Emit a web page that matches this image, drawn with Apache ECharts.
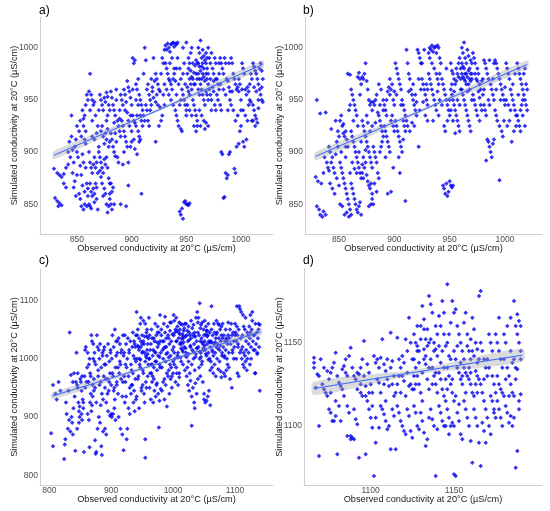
<!DOCTYPE html>
<html><head><meta charset="utf-8">
<script src="https://cdn.jsdelivr.net/npm/echarts@6/dist/echarts.min.js"></script>
<style>html,body{margin:0;padding:0;background:#fff}#c{width:550px;height:511px}</style>
</head><body><div id="c"></div>
<script>
// ---------- DATA ----------
const panelLabels = ['a)','b)','c)','d)'];
const xTitle = 'Observed conductivity at 20°C (µS/cm)';
const yTitle = 'Simulated conductivity at 20°C (µS/cm)';
const ticksAX = [850,900,950,1000], ticksAY = [850,900,950,1000];
const ticksBX = [850,900,950,1000], ticksBY = [850,900,950,1000];
const ticksCX = [800,900,1000,1100], ticksCY = [800,900,1000,1100];
const ticksDX = [1100,1150], ticksDY = [1100,1150];

const dataA = [[829,884],[830,856],[832,853],[833,848],[834,851],[836,849],[832,880],[834,878],[836,876],[838,879],[840,885],[838,870],[840,866],
[842,900],[843,910],[844,895],[845,935],[846,902],[847,890],[848,905],[848,872],[846,880],[849,912],[845,915],[842,888],[847,866],[849,858],[850,925],[850,900],[850,878],
[852,920],[853,930],[854,915],[855,940],[856,925],[857,912],[858,945],[855,898],[856,890],[858,885],[852,860],[853,855],[854,848],[856,845],[857,862],[859,870],[860,865],[858,908],[857,935],[859,955],[860,950],[851,895],[853,887],[854,878],[855,868],[857,850],[859,848],[860,858],[856,932],[858,920],
[861,958],[862,975],[863,955],[864,950],[865,945],[866,948],[862,940],[864,915],[866,912],[868,918],[861,900],[862,890],[863,885],[864,880],[865,888],[866,895],[867,885],[868,890],[869,880],[862,870],[863,862],[864,858],[865,865],[866,860],[867,870],[868,866],[861,850],[862,848],[863,846],[866,852],[868,855],[869,845],[870,905],[869,925],[867,935],[870,940],[864,930],
[871,955],[872,950],[873,945],[874,940],[875,952],[876,948],[877,957],[878,953],[879,945],[872,920],[873,925],[874,915],[876,918],[877,912],[878,922],[879,905],[871,895],[872,890],[873,885],[874,880],[875,893],[876,888],[877,895],[878,885],[879,875],[880,870],[871,882],[872,876],[873,870],[875,865],[876,860],[877,850],[878,842],[879,848],[880,855],[874,858],[875,908],[870,900],[880,860],[880,910],[878,935],[877,930],[880,940],
[881,958],[882,952],[883,945],[884,940],[885,935],[886,950],[887,930],[888,925],[889,920],[881,918],[882,912],[883,905],[884,900],[885,896],[886,910],[887,895],[888,890],[889,940],[890,955],[881,870],[882,862],[883,866],[881,850],[882,845],[884,850],[890,850],[886,960],[884,928],[889,932],[890,915],[885,918],
[891,950],[892,945],[893,960],[894,955],[895,948],[896,968],[897,962],[898,958],[899,952],[900,945],[891,930],[892,925],[893,920],[894,915],[895,910],[896,905],[897,930],[898,925],[899,935],[900,920],[893,900],[897,890],[895,848],[897,868],[892,888],[899,905],[900,910],[894,940],[896,938],
[901,990],[902,985],[903,988],[904,965],[905,960],[906,970],[907,955],[908,950],[909,945],[910,940],[901,935],[902,930],[903,928],[904,925],[905,935],[906,920],[907,915],[908,912],[909,930],[910,925],[903,903],[905,898],[907,910],[909,860],[901,960],[904,950],[906,945],[908,935],[902,912],
[911,975],[912,1000],[913,988],[914,960],[915,965],[916,955],[917,950],[918,945],[919,958],[920,952],[911,935],[912,930],[913,945],[914,940],[915,930],[916,925],[918,970],[920,990],[922,910],[917,940],[919,962],
[921,968],[922,975],[923,970],[924,965],[925,960],[926,958],[927,975],[928,990],[929,985],[930,998],[922,948],[924,945],[926,943],[928,935],[930,945],[925,925],[927,930],[929,955],[930,965],[923,955],
[931,1002],[932,998],[933,1004],[934,1000],[935,996],[936,1003],[937,1004],[938,1005],[939,1001],[940,1004],[941,1003],[942,1005],[931,985],[932,980],[933,975],[934,970],[935,968],[936,965],[937,960],[938,970],[939,975],[940,968],[932,960],[934,955],[936,950],[938,945],[940,940],[935,985],[937,990],[939,980],[941,955],[941,980],
[941,935],[942,930],[943,925],[944,945],[945,950],[946,960],[947,955],[948,950],[949,945],[950,940],[943,965],[945,970],[947,975],[949,965],[945,922],[946,920],[950,935],[944,843],[945,840],[946,846],[947,836],[948,852],[949,853],[950,850],[951,850],[952,849],[953,851],[947,1000],[950,1005],[942,990],[948,985],[944,980],
[951,975],[952,980],[953,985],[954,978],[955,972],[956,970],[957,976],[958,983],[959,988],[960,985],[951,962],[952,958],[953,955],[954,965],[955,960],[956,950],[957,945],[958,940],[959,935],[960,930],[951,945],[953,940],[955,935],[957,925],[959,920],[960,925],[952,990],[954,995],[956,985],[958,965],[960,970],[953,970],[957,965],[959,975],[955,1000],
[961,1000],[962,995],[963,1007],[964,990],[965,985],[966,992],[967,988],[968,995],[969,980],[970,1000],[961,975],[962,970],[963,978],[964,982],[965,975],[966,972],[967,968],[968,975],[969,970],[970,965],[961,960],[962,955],[963,965],[964,960],[965,955],[966,950],[967,945],[968,958],[969,955],[970,950],[962,940],[964,935],[966,930],[968,928],[970,925],[963,925],[967,922],[961,985],[965,998],[969,990],[962,982],[966,980],[970,975],[964,970],[968,985],
[971,990],[972,985],[973,995],[974,980],[975,975],[976,990],[977,985],[978,970],[979,965],[980,975],[971,960],[972,955],[973,950],[974,962],[975,958],[976,945],[977,940],[978,955],[979,950],[980,960],[973,940],[977,970],[980,985],[975,968],[972,970],
[981,990],[982,985],[983,980],[984,975],[985,990],[986,985],[987,970],[988,968],[989,962],[990,958],[981,945],[982,940],[984,960],[986,955],[988,940],[990,950],[982,900],[983,898],[984,856],[985,857],[986,880],[987,875],[988,878],[989,898],[990,900],[981,965],[989,985],
[991,990],[992,985],[993,975],[994,970],[995,965],[996,960],[997,962],[998,958],[999,965],[1000,950],[991,945],[993,940],[995,930],[997,935],[999,920],[1000,925],[994,884],[995,880],[996,905],[998,908],[992,958],[998,970],[1000,940],
[1001,985],[1002,980],[1003,975],[1004,960],[1005,955],[1006,962],[1007,945],[1008,950],[1009,948],[1010,930],[1002,940],[1004,935],[1006,930],[1008,965],[1010,970],[1003,905],[1005,912],[1001,960],[1007,958],[1009,975],[1002,910],
[1011,985],[1012,982],[1013,978],[1014,975],[1015,970],[1016,965],[1017,960],[1018,955],[1019,950],[1020,948],[1011,945],[1012,940],[1013,935],[1014,932],[1015,928],[1016,950],[1017,980],[1018,985],[1019,978],[1020,970],[1012,962],[1014,958],[1011,930],[1013,925],[1016,942],[1019,962]];

const dataB = [[830,950],[833,937],[838,938],[829,876],[830,848],[832,845],[833,840],[835,838],[836,843],[838,840],[831,872],[834,870],[836,880],[839,890],[840,885],[837,895],
[841,905],[842,900],[843,890],[844,895],[845,885],[846,880],[847,898],[848,910],[849,920],[850,915],[842,870],[844,865],[846,860],[848,875],[850,868],[843,922],[847,930],[849,905],[841,882],
[851,930],[852,935],[853,925],[854,918],[855,915],[856,920],[857,912],[858,905],[859,940],[860,945],[851,890],[852,885],[853,880],[854,875],[855,870],[856,865],[857,860],[858,855],[859,850],[860,845],[851,850],[853,848],[855,840],[857,842],[859,838],[852,900],[856,895],[858,975],[860,974],[854,927],[856,905],[860,880],
[861,960],[862,955],[863,950],[864,945],[865,940],[866,935],[867,972],[868,976],[869,970],[870,965],[861,920],[862,915],[863,910],[864,905],[865,900],[866,895],[867,890],[868,885],[869,880],[870,875],[861,870],[862,865],[863,860],[864,855],[865,850],[866,845],[867,842],[868,848],[869,852],[870,840],[862,890],[864,884],[866,880],[868,900],[870,910],[863,930],[867,925],[869,955],[861,840],
[871,972],[872,970],[873,975],[874,985],[875,968],[876,960],[877,950],[878,945],[879,948],[880,940],[871,930],[872,925],[873,920],[874,915],[875,910],[876,905],[877,900],[878,895],[879,890],[880,885],[871,880],[872,875],[873,885],[874,890],[875,878],[876,872],[877,868],[878,865],[879,870],[880,860],[872,895],[874,902],[876,928],[878,920],[880,925],[875,935],[879,850],[880,855],[877,848],[871,888],
[881,948],[882,945],[883,950],[884,955],[885,938],[886,935],[887,930],[888,925],[889,920],[890,915],[881,905],[882,900],[883,895],[884,890],[885,880],[886,875],[887,900],[888,905],[889,910],[890,940],[881,850],[882,870],[884,862],[886,965],[888,960],[890,950],[883,928],[887,945],
[891,945],[892,940],[893,950],[894,958],[895,962],[896,955],[897,960],[898,965],[899,950],[900,945],[891,925],[892,920],[893,915],[894,910],[895,905],[896,900],[897,930],[898,935],[899,925],[900,920],[892,895],[894,860],[897,862],[899,885],[893,935],[896,970],[900,958],
[901,985],[902,980],[903,975],[904,970],[905,965],[906,960],[907,950],[908,945],[909,940],[910,935],[901,930],[902,925],[903,920],[904,915],[905,910],[906,905],[907,900],[908,930],[909,925],[910,920],[905,880],[910,853],[902,955],[906,945],[904,895],[908,912],
[911,998],[912,985],[913,975],[914,970],[915,960],[916,955],[917,950],[918,945],[919,940],[920,935],[911,930],[912,925],[914,920],[916,928],[918,925],[920,948],[922,905],[913,958],[917,965],[919,955],
[921,998],[922,995],[923,990],[924,985],[925,970],[926,965],[927,960],[928,955],[929,950],[930,945],[922,970],[924,960],[926,948],[928,935],[930,930],[925,985],[927,998],[929,965],[923,940],[930,960],
[931,995],[932,1000],[933,998],[934,1002],[935,996],[936,1000],[937,1001],[938,995],[939,1002],[940,1000],[931,975],[932,970],[933,965],[934,960],[935,955],[936,950],[937,945],[938,975],[939,970],[940,965],[932,990],[934,985],[936,980],[938,940],[940,935],[935,930],[939,958],
[941,990],[942,985],[943,970],[944,965],[945,960],[946,955],[947,950],[948,945],[949,940],[950,935],[941,950],[943,945],[945,925],[946,920],[948,930],[950,950],[944,868],[945,865],[946,860],[947,870],[948,858],[949,862],[950,872],[951,868],[952,866],[953,868],[941,975],[947,980],
[951,985],[952,978],[953,975],[954,970],[955,965],[956,980],[957,975],[958,985],[959,990],[960,980],[951,960],[952,955],[953,950],[954,945],[955,940],[956,935],[957,930],[958,925],[959,920],[960,960],[951,940],[953,930],[955,918],[957,950],[959,945],[954,958],[956,968],[960,970],[952,965],[958,972],
[961,1000],[962,995],[963,1005],[964,990],[965,985],[966,998],[967,992],[968,980],[969,975],[970,970],[961,975],[962,972],[963,970],[964,968],[965,975],[966,972],[967,965],[968,960],[969,968],[970,975],[961,960],[962,955],[963,950],[964,945],[965,940],[966,935],[967,930],[968,925],[969,920],[970,950],[961,985],[963,980],[965,965],[967,978],[969,988],[962,982],[964,975],[966,958],[968,970],[970,985],
[971,995],[972,990],[973,985],[974,970],[975,968],[976,975],[977,965],[978,960],[979,968],[980,970],[971,955],[972,950],[973,945],[974,940],[975,935],[976,958],[977,952],[978,945],[979,940],[980,955],[973,975],[975,980],[977,930],
[981,988],[982,985],[983,980],[984,975],[985,970],[986,988],[987,965],[988,960],[989,955],[990,950],[981,945],[982,940],[983,935],[984,912],[985,910],[986,905],[987,900],[988,895],[983,892],[989,908],[990,912],[981,960],[985,950],[989,970],[990,985],[986,945],
[991,988],[992,985],[993,980],[994,975],[995,970],[996,965],[997,960],[998,955],[999,950],[1000,945],[991,940],[992,935],[993,930],[995,925],[997,920],[999,930],[995,873],[998,915],[992,960],[996,950],[1000,962],
[1001,985],[1002,980],[1003,975],[1004,970],[1005,960],[1006,955],[1007,950],[1008,945],[1009,940],[1010,935],[1002,925],[1004,930],[1006,910],[1008,920],[1010,925],[1001,950],[1003,945],[1007,965],[1009,975],[1005,940],
[1011,985],[1012,980],[1013,975],[1014,970],[1015,965],[1016,960],[1017,955],[1018,950],[1019,945],[1020,940],[1011,935],[1012,930],[1013,925],[1014,920],[1015,945],[1016,950],[1017,975],[1018,980],[1019,965],[1020,960],[1012,955],[1014,940],[1016,935],[1018,925]];

const dataC = [[803,872],[806,850],[806,955],[810,940],[812,930],[815,960],[818,945],
[824,828],[825,853],[826,862],[828,905],[830,880],[832,895],[833,1045],[834,875],[835,972],[836,900],[837,890],[838,870],[840,975],[838,960],[831,945],[827,925],[839,915],
[842,842],[843,960],[844,1010],[845,955],[846,950],[847,925],[848,910],[849,900],[850,965],[851,960],[852,945],[853,970],[854,930],[855,915],[856,840],[857,970],[858,1015],[859,1020],[860,960],[845,880],[848,890],[852,905],[855,925],[858,950],[841,935],[849,918],[853,895],[846,975],
[861,985],[862,1010],[863,960],[864,990],[865,848],[866,975],[867,940],[868,1040],[869,1030],[870,955],[871,1000],[872,965],[873,995],[874,860],[875,837],[876,840],[877,1040],[878,1020],[879,980],[880,1015],[862,905],[864,895],[866,925],[868,910],[870,935],[872,945],[874,950],[876,925],[878,880],[880,900],[863,960],[867,970],[871,1025],[875,990],[879,970],[865,1000],[869,920],[873,1010],
[881,1000],[882,1025],[883,960],[884,985],[885,940],[886,1010],[887,930],[888,970],[889,1020],[890,950],[891,990],[892,925],[893,1005],[894,965],[895,1025],[896,945],[897,995],[898,975],[899,1015],[900,955],[882,890],[884,850],[885,835],[887,875],[890,880],[892,870],[895,910],[898,902],[900,905],[883,920],[886,1005],[889,990],[891,965],[894,940],[897,960],[899,1010],[881,955],[888,1015],
[901,1000],[902,1040],[903,970],[904,1020],[905,950],[906,1050],[907,985],[908,1030],[909,960],[910,1010],[911,940],[912,1035],[913,975],[914,1025],[915,990],[916,965],[917,1015],[918,935],[919,1040],[920,1005],[901,900],[903,905],[905,915],[907,895],[909,955],[912,900],[915,880],[918,870],[920,843],[911,985],[914,995],[906,930],[908,1005],[916,1010],[919,960],[902,975],[904,945],[910,1030],
[921,1010],[922,1040],[923,960],[924,1025],[925,985],[926,1000],[927,1035],[928,970],[929,1015],[930,950],[931,1030],[932,990],[933,955],[934,1020],[935,975],[936,1005],[937,945],[938,1025],[939,965],[940,995],[922,925],[924,935],[926,880],[928,915],[930,905],[932,940],[934,955],[936,925],[938,910],[940,930],[925,862],[935,1045],[937,1030],[939,1020],[921,970],[923,990],[929,1010],[933,980],[938,1000],[940,1040],
[941,1080],[942,1000],[943,1050],[944,970],[945,1035],[946,990],[947,1060],[948,1020],[949,950],[950,1040],[951,980],[952,1030],[953,940],[954,1010],[955,1060],[956,960],[957,1045],[958,1015],[959,1025],[960,1035],
[941,935],[942,1040],[943,965],[944,1020],[945,915],[946,1000],[947,985],[948,1030],[949,945],[950,1010],[951,955],[952,975],[953,1025],[954,925],[955,995],[956,1005],[957,950],[958,1038],[959,970],[960,990],
[955,862],[955,830],[948,1070],[952,1065],[958,1050],[945,1015],[950,1025],[954,1038],[959,1008],[943,1022],[947,998],[951,1012],[957,1002],
[961,1000],[962,1040],[963,975],[964,1025],[965,990],[966,1035],[967,970],[968,1015],[969,985],[970,1030],[971,995],[972,1010],[973,1040],[974,980],[975,1020],[976,1005],[977,1045],[978,990],[979,1030],[980,1010],
[961,1070],[963,1015],[965,1050],[967,1005],[969,1035],[971,1060],[973,995],[975,1045],[977,1025],[979,985],
[962,950],[964,930],[966,960],[968,925],[970,945],[972,935],[974,958],[976,940],[978,928],[980,948],
[977,882],[965,975],[969,965],[973,955],[979,1075],[975,1055],[962,1000],[966,990],[970,1012],[974,1028],[978,1003],
[981,1040],[982,985],[983,1015],[984,1000],[985,1030],[986,965],[987,1020],[988,995],[989,1035],[990,975],[991,1010],[992,1040],[993,980],[994,1025],[995,990],[996,1005],[997,1030],[998,970],[999,1015],[1000,995],
[981,1050],[983,1030],[985,1060],[987,1045],[989,1020],[991,1055],[993,1035],[995,1048],[997,1062],[999,1042],
[982,945],[984,960],[986,930],[988,955],[990,918],[992,970],[994,940],[996,965],[998,950],[1000,975],
[985,1018],[989,1008],[993,1002],[997,985],[987,1072],[995,1062],
[1001,1040],[1002,1065],[1003,1000],[1004,1050],[1005,985],[1006,1030],[1007,1055],[1008,1010],[1009,1045],[1010,975],[1011,1025],[1012,1060],[1013,995],[1014,1035],[1015,1015],[1016,990],[1017,1048],[1018,1020],[1019,980],[1020,1038],
[1001,1020],[1003,1045],[1005,1030],[1007,1005],[1009,1035],[1011,1050],[1013,1018],[1015,1042],[1017,1028],[1019,1060],
[1002,990],[1004,960],[1006,975],[1008,955],[1010,968],[1012,1002],[1014,1025],[1016,1012],[1018,1052],[1020,1005],
[1005,1070],[1010,1062],[1015,1058],[1002,1010],[1008,1002],[1013,1028],[1017,1038],[1020,1018],[1006,1048],[1011,1042],[1016,1034],[1001,1075],
[1021,1010],[1022,1040],[1023,985],[1024,1030],[1025,995],[1026,1045],[1027,975],[1028,1020],[1029,1035],[1030,990],[1031,1015],[1032,1042],[1033,1000],[1034,1025],[1035,980],[1036,1038],[1037,1008],[1038,1030],[1039,1018],[1040,1045],
[1021,1060],[1023,1048],[1025,1055],[1027,1040],[1029,1065],[1031,1052],[1033,1058],[1035,1045],[1037,1070],[1039,1080],
[1022,970],[1024,955],[1026,945],[1028,962],[1030,935],[1032,950],[1034,925],[1036,958],[1038,940],[1040,965],
[1030,885],[1035,915],[1025,1008],[1033,1012],[1038,1018],[1028,1022],[1022,1003],[1036,1003],[1040,1062],[1026,1032],[1034,1038],
[1041,1020],[1042,1040],[1043,1000],[1044,1030],[1045,1010],[1046,1035],[1047,995],[1048,1025],[1049,1015],[1050,1040],
[1051,1030],[1052,1015],[1053,1042],[1054,1005],[1055,1025],[1056,1040],[1057,1010],[1058,1030],[1059,1000],[1060,1020],
[1041,1070],[1043,1095],[1045,1058],[1047,1062],[1049,1050],[1051,1065],[1053,1055],[1055,1048],[1057,1060],[1059,1045],
[1042,985],[1044,970],[1046,990],[1048,960],[1050,930],[1052,925],[1054,928],[1056,935],[1058,945],[1060,980],
[1043,1012],[1047,1028],[1051,1022],[1055,1038],[1059,1028],[1045,1003],[1049,1018],[1053,1008],[1057,998],[1044,1052],[1054,1048],[1050,940],[1060,920],[1062,1090],
[1061,1030],[1062,1050],[1063,1015],[1064,1040],[1065,1005],[1066,1025],[1067,1045],[1068,1010],[1069,1035],[1070,1020],
[1071,1045],[1072,1025],[1073,1060],[1074,1035],[1075,1015],[1076,1050],[1077,1030],[1078,1040],[1079,1010],[1080,1035],
[1061,995],[1063,985],[1065,975],[1067,990],[1069,970],[1071,1000],[1073,982],[1075,995],[1077,978],[1079,1005],
[1066,1060],[1070,1065],[1074,1058],[1078,1055],[1080,1060],[1064,1012],[1068,1028],[1072,1018],[1076,1022],[1062,1028],[1070,1042],[1078,968],
[1081,1020],[1082,1040],[1083,1005],[1084,1030],[1085,1015],[1086,1035],[1087,1000],[1088,1025],[1089,1040],[1090,1010],
[1091,1035],[1092,1050],[1093,1025],[1094,1060],[1095,1040],[1096,1015],[1097,1045],[1098,1030],[1099,1020],[1100,1040],
[1082,975],[1084,970],[1086,980],[1088,990],[1090,985],[1092,965],[1095,950],[1098,1000],[1100,1060],[1085,1050],[1089,1062],[1096,1010],[1083,1002],[1087,1032],
[1101,1045],[1102,1030],[1103,1055],[1104,1040],[1105,1025],[1106,1050],[1107,1090],[1108,1085],[1109,1035],[1110,1080],
[1111,1000],[1112,1020],[1113,990],[1114,1010],[1115,985],[1116,1005],[1117,995],[1118,1015],[1119,980],[1120,1000],
[1102,1000],[1104,975],[1106,970],[1108,1010],[1110,1015],[1112,1040],[1114,1055],[1116,1050],[1118,1030],[1120,1045],[1105,1020],[1113,1075],[1117,1070],[1103,1090],
[1121,1040],[1122,1025],[1123,1055],[1124,1035],[1125,1045],[1126,1020],[1127,1050],[1128,1080],[1129,1030],[1130,1015],[1131,1040],[1132,975],[1133,1060],[1134,1025],[1135,1045],[1136,1010],[1137,1035],[1138,1050],[1139,1020],[1140,945],
[1122,1010],[1124,990],[1126,1000],[1128,1065],[1130,1040],[1133,975],[1136,1008],[1138,1060],[1140,1058],[1125,1075],[1132,1015]];

const dataD = [[1066,1141],[1066,1138],[1066,1135],[1068,1131],[1069,1130],[1070,1140],[1071,1125],[1072,1122],[1073,1120],[1069,1100],[1069,1082],[1074,1133],[1075,1128],[1067,1123],[1072,1135],[1074,1118],[1075,1110],
[1076,1132],[1077,1135],[1078,1138],[1079,1144],[1080,1130],[1081,1126],[1082,1124],[1083,1134],[1084,1136],[1085,1140],[1076,1108],[1077,1103],[1078,1103],[1079,1106],[1080,1083],[1081,1112],[1082,1103],[1083,1122],[1084,1118],[1085,1132],[1076,1120],[1079,1115],
[1086,1130],[1087,1142],[1088,1147],[1089,1135],[1090,1130],[1091,1128],[1092,1132],[1093,1131],[1094,1125],[1095,1140],[1086,1112],[1087,1108],[1088,1094],[1089,1093],[1090,1092],[1091,1104],[1092,1101],[1093,1081],[1094,1120],[1095,1118],[1086,1094],[1088,1092],[1090,1110],[1092,1122],[1094,1135],
[1096,1151],[1097,1083],[1098,1137],[1099,1132],[1100,1125],[1101,1120],[1102,1142],[1103,1138],[1104,1128],[1105,1126],[1096,1130],[1097,1124],[1098,1115],[1099,1110],[1100,1105],[1101,1099],[1102,1070],[1103,1090],[1104,1140],[1105,1135],[1097,1118],[1099,1120],[1101,1112],[1103,1105],[1105,1099],
[1106,1141],[1107,1152],[1108,1137],[1109,1133],[1110,1128],[1111,1124],[1112,1156],[1113,1139],[1114,1130],[1115,1120],[1106,1112],[1107,1110],[1108,1107],[1109,1103],[1110,1098],[1111,1100],[1112,1086],[1113,1110],[1114,1106],[1115,1086],[1106,1120],[1108,1125],[1110,1140],[1112,1135],[1114,1118],[1109,1115],[1113,1125],
[1116,1153],[1117,1140],[1118,1135],[1119,1130],[1120,1127],[1121,1152],[1122,1145],[1123,1165],[1124,1125],[1125,1122],[1116,1112],[1117,1108],[1118,1103],[1119,1100],[1120,1097],[1121,1095],[1122,1110],[1123,1106],[1124,1097],[1125,1093],[1116,1125],[1118,1120],[1120,1138],[1122,1132],[1124,1150],[1117,1130],[1119,1142],[1121,1118],[1123,1124],[1125,1140],
[1126,1155],[1127,1150],[1128,1148],[1129,1145],[1130,1160],[1131,1172],[1132,1158],[1133,1152],[1134,1148],[1135,1178],[1126,1140],[1127,1135],[1128,1130],[1129,1125],[1130,1120],[1131,1115],[1132,1140],[1133,1137],[1134,1128],[1135,1122],[1126,1112],[1127,1108],[1128,1100],[1129,1098],[1130,1108],[1131,1103],[1132,1096],[1133,1088],[1134,1092],[1135,1105],[1126,1130],[1128,1145],[1130,1152],[1132,1146],[1134,1158],[1127,1125],[1129,1138],[1131,1132],[1133,1142],[1135,1150],[1128,1160],[1132,1164],[1135,1135],[1126,1122],
[1136,1173],[1137,1168],[1138,1150],[1139,1146],[1140,1142],[1141,1166],[1142,1160],[1143,1175],[1144,1155],[1145,1148],[1136,1140],[1137,1135],[1138,1130],[1139,1125],[1140,1120],[1141,1132],[1142,1128],[1143,1122],[1144,1118],[1145,1115],[1136,1110],[1137,1104],[1138,1100],[1139,1070],[1140,1098],[1141,1112],[1142,1108],[1143,1103],[1144,1100],[1145,1100],[1136,1152],[1138,1145],[1140,1155],[1142,1138],[1144,1135],[1137,1125],[1139,1132],[1141,1148],[1143,1145],[1145,1128],[1139,1160],[1144,1168],[1146,1185],
[1146,1150],[1147,1142],[1148,1162],[1149,1175],[1150,1168],[1151,1170],[1152,1160],[1153,1155],[1154,1150],[1155,1145],[1146,1135],[1147,1130],[1148,1125],[1149,1120],[1150,1115],[1151,1140],[1152,1135],[1153,1132],[1154,1128],[1155,1125],[1146,1110],[1147,1105],[1148,1100],[1149,1102],[1150,1071],[1151,1070],[1152,1108],[1153,1103],[1154,1095],[1155,1092],[1146,1122],[1148,1140],[1150,1145],[1152,1148],[1154,1138],[1147,1155],[1149,1128],[1151,1118],[1153,1113],[1155,1130],[1150,1100],[1147,1095],
[1156,1162],[1157,1168],[1158,1148],[1159,1145],[1160,1140],[1161,1165],[1162,1158],[1163,1150],[1164,1146],[1165,1178],[1156,1135],[1157,1132],[1158,1130],[1159,1128],[1160,1125],[1161,1120],[1162,1118],[1163,1133],[1164,1130],[1165,1128],[1156,1115],[1157,1110],[1158,1105],[1159,1100],[1160,1091],[1161,1078],[1162,1110],[1163,1105],[1164,1100],[1165,1090],[1156,1140],[1158,1155],[1160,1152],[1162,1142],[1164,1138],[1157,1120],[1159,1135],[1161,1145],[1163,1125],[1165,1140],[1166,1181],[1166,1076],[1160,1132],[1164,1120],
[1166,1150],[1167,1145],[1168,1140],[1169,1135],[1170,1130],[1171,1155],[1172,1150],[1173,1145],[1174,1125],[1175,1120],[1166,1125],[1167,1120],[1168,1115],[1169,1110],[1170,1105],[1171,1100],[1172,1095],[1173,1115],[1174,1110],[1175,1105],[1167,1102],[1169,1090],[1171,1135],[1173,1130],[1175,1155],[1168,1128],[1170,1140],[1172,1118],[1174,1108],[1168,1097],
[1176,1150],[1177,1145],[1178,1140],[1179,1135],[1180,1155],[1181,1150],[1182,1160],[1183,1130],[1184,1125],[1185,1120],[1176,1115],[1177,1110],[1178,1105],[1179,1100],[1180,1118],[1181,1112],[1182,1108],[1183,1102],[1184,1106],[1185,1100],[1176,1130],[1178,1122],[1180,1140],[1182,1135],[1184,1145],[1177,1125],[1179,1120],[1181,1128],[1183,1118],[1185,1138],[1177,1165],[1184,1165],
[1186,1175],[1187,1160],[1188,1155],[1189,1150],[1190,1145],[1186,1140],[1187,1135],[1188,1167],[1189,1163],[1190,1140],[1186,1118],[1187,1128],[1188,1134],[1189,1115],[1190,1119],[1188,1085],[1187,1075],[1186,1105],[1189,1110],[1190,1160]];

// regression fits (x, fitted, lower, upper)
const fitAx = [829, 925, 1020], fitAy = [897, 940.5, 984], fitAlo = [893, 939, 980], fitAhi = [901, 942, 988];
const fitBx = [829, 925, 1020], fitBy = [896, 940, 984], fitBlo = [892, 938.5, 980], fitBhi = [900, 941.5, 988];
const fitCx = [805, 975, 1142], fitCy = [936, 991, 1046], fitClo = [930, 989, 1040], fitChi = [942, 993, 1052];
const fitDx = [1066, 1128, 1191], fitDy = [1122.5, 1132.5, 1142.5], fitDlo = [1118.5, 1131, 1138.5], fitDhi = [1126.5, 1134, 1146.5];

// ---------- LAYOUT ----------
const grids = [
  {left: 40, right: 277, top: 17, bottom: 277},
  {left: 305, right: 8, top: 17, bottom: 277},
  {left: 40, right: 277, top: 269, bottom: 26},
  {left: 304, right: 8, top: 269, bottom: 26}
];
const xr = [[816.2, 1029.3],[819.3, 1033.4],[785, 1161.4],[1060, 1202.8]];
const yr = [[821.5, 1029.4],[821.5, 1029.4],[783.4, 1153.7],[1064.6, 1194.2]];
const xt = [ticksAX, ticksBX, ticksCX, ticksDX];
const yt = [ticksAY, ticksBY, ticksCY, ticksDY];
const datas = [dataA, dataB, dataC, dataD];
const fits = [[fitAx,fitAy,fitAlo,fitAhi],[fitBx,fitBy,fitBlo,fitBhi],[fitCx,fitCy,fitClo,fitChi],[fitDx,fitDy,fitDlo,fitDhi]];
const yNameX = [14.5, 279.5, 14.5, 279.5];
const FONT = 'Liberation Sans, Arial, sans-serif';

const xAxis = [], yAxis = [], series = [];
for (let i = 0; i < 4; i++) {
  xAxis.push({
    type: 'value', gridIndex: i, min: xr[i][0], max: xr[i][1],
    axisLine: {show: true, lineStyle: {color: '#cfcfcf', width: 1}},
    axisTick: {show: false}, splitLine: {show: false},
    axisLabel: {customValues: xt[i], formatter: v => String(v), color: '#4d4d4d', fontSize: 8.5, fontFamily: FONT, margin: 1},
    name: xTitle, nameLocation: 'middle', nameGap: 10, nameMoveOverlap: false,
    nameTextStyle: {color: '#1a1a1a', fontSize: 9.2, fontFamily: FONT, verticalAlign: 'top'}
  });
  yAxis.push({
    type: 'value', gridIndex: i, min: yr[i][0], max: yr[i][1],
    axisLine: {show: true, lineStyle: {color: '#cfcfcf', width: 1}},
    axisTick: {show: false}, splitLine: {show: false},
    axisLabel: {customValues: yt[i], formatter: v => String(v), color: '#4d4d4d', fontSize: 8.5, fontFamily: FONT, margin: 2},
    name: yTitle, nameLocation: 'middle', nameGap: grids[i].left - yNameX[i], nameMoveOverlap: false,
    nameTextStyle: {color: '#1a1a1a', fontSize: 9.2, fontFamily: FONT, verticalAlign: 'middle'}
  });
  series.push({
    type: 'scatter', xAxisIndex: i, yAxisIndex: i, data: datas[i],
    symbol: 'diamond', symbolSize: 4.5, itemStyle: {color: '#0000ee'}, silent: true, z: 2
  });
  const f = fits[i];
  series.push({
    type: 'custom', xAxisIndex: i, yAxisIndex: i, data: [0], silent: true, z: 3,
    renderItem: (function (f) {
      return function (params, api) {
        const pts = [];
        for (let k = 0; k < f[0].length; k++) pts.push(api.coord([f[0][k], f[3][k]]));
        for (let k = f[0].length - 1; k >= 0; k--) pts.push(api.coord([f[0][k], f[2][k]]));
        return {type: 'polygon', shape: {points: pts, smooth: 0.3}, style: {fill: 'rgba(160,160,160,0.38)', stroke: null}};
      };
    })(f)
  });
  series.push({
    type: 'line', xAxisIndex: i, yAxisIndex: i, silent: true, z: 4,
    data: f[0].map((x, k) => [x, f[1][k]]), showSymbol: false, symbol: 'none',
    lineStyle: {color: '#3366ff', width: 1}
  });
}

const chart = echarts.init(document.getElementById('c'), null, {renderer: 'canvas'});
chart.setOption({
  animation: false,
  backgroundColor: '#fff',
  grid: grids,
  xAxis: xAxis, yAxis: yAxis, series: series,
  graphic: [
    {type: 'text', left: 39, top: 5, style: {text: panelLabels[0], fontSize: 12, fill: '#000', fontFamily: FONT}},
    {type: 'text', left: 303, top: 5, style: {text: panelLabels[1], fontSize: 12, fill: '#000', fontFamily: FONT}},
    {type: 'text', left: 39, top: 255, style: {text: panelLabels[2], fontSize: 12, fill: '#000', fontFamily: FONT}},
    {type: 'text', left: 303, top: 255, style: {text: panelLabels[3], fontSize: 12, fill: '#000', fontFamily: FONT}}
  ]
});
</script></body></html>
